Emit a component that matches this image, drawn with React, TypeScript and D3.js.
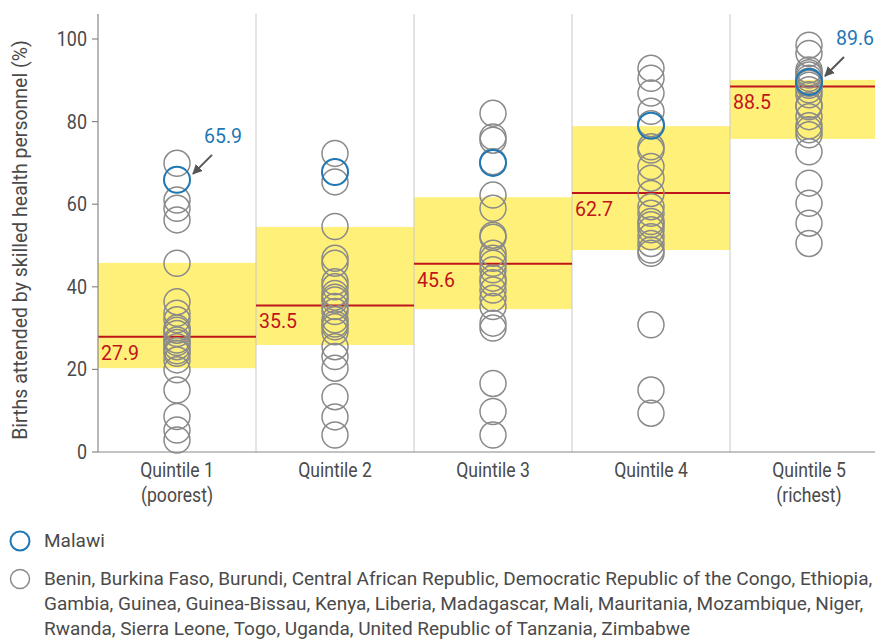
import React from "react";
import * as d3 from "d3";

const categories = ["Quintile 1", "Quintile 2", "Quintile 3", "Quintile 4", "Quintile 5"];
const subLabels = ["(poorest)", "", "", "", "(richest)"];
const medians = [27.9, 35.5, 45.6, 62.7, 88.5];
const boxLow = [20.3, 25.9, 34.6, 48.9, 75.8];
const boxHigh = [45.8, 54.5, 61.7, 78.9, 90.1];
const malawi = [65.9, 67.8, 70.0, 79.0, 89.6];
const q1 = [69.9, 61.0, 59.0, 56.2, 45.7, 36.4, 33.6, 32.0, 30.0, 29.5, 28.7, 27.1, 26.5, 25.5, 24.5, 23.9, 22.3, 19.9, 15.0, 8.6, 5.3, 2.9];
const q2 = [72.3, 65.4, 54.6, 46.9, 45.7, 41.2, 40.0, 38.4, 37.5, 36.8, 35.2, 34.0, 32.0, 31.0, 30.3, 29.1, 25.5, 23.1, 20.3, 13.4, 8.5, 4.1];
const q3 = [82.0, 76.3, 75.5, 70.3, 62.2, 59.0, 52.5, 52.0, 48.1, 46.9, 45.7, 44.1, 42.1, 41.0, 39.2, 37.2, 35.2, 31.2, 30.0, 16.6, 9.8, 4.1];
const q4 = [92.9, 90.5, 86.9, 82.5, 79.5, 73.9, 73.1, 69.1, 66.3, 62.6, 59.4, 57.8, 55.8, 55.0, 53.8, 52.1, 50.5, 48.9, 48.1, 30.8, 15.0, 9.4];
const q5 = [98.5, 96.5, 92.5, 91.8, 91.3, 90.5, 89.8, 89.3, 88.8, 87.7, 86.5, 84.0, 83.6, 81.2, 79.0, 78.0, 76.8, 72.7, 65.1, 60.2, 55.4, 50.5];
const others = [q1, q2, q3, q4, q5];
const yTicks = [0, 20, 40, 60, 80, 100];
const annotated = [0, 4];
const legendLines = [
  "Benin, Burkina Faso, Burundi, Central African Republic, Democratic Republic of the Congo, Ethiopia,",
  "Gambia, Guinea, Guinea-Bissau, Kenya, Liberia, Madagascar, Mali, Mauritania, Mozambique, Niger,",
  "Rwanda, Sierra Leone, Togo, Uganda, United Republic of Tanzania, Zimbabwe",
];

const W = 875;
const H = 641;
const left = 98;
const top = 14;
const bottom = 452;
const FONT = "Roboto, 'Liberation Sans', sans-serif";
const RED = "#c0141c";
const BLUE = "#1f77b4";
const GRAY = "#8a8a8a";
const TXT = "#4a4a4a";
const YELLOW = "#fff07a";

function CText(props: { x: number; y: number; size: number; sx?: number; anchor?: string; fill?: string; children: React.ReactNode }) {
  const { x, y, size, sx = 1, anchor = "start", fill = TXT, children } = props;
  return (
    <g transform={`translate(${x},${y}) scale(${sx},1)`}>
      <text x={0} y={0} fontSize={size} textAnchor={anchor} fill={fill}>
        {children}
      </text>
    </g>
  );
}

export default function App() {
  const x = d3.scaleBand<string>().domain(categories).range([left, left + 158 * 5]).padding(0);
  const y = d3.scaleLinear().domain([0, 100]).range([bottom, 39]);
  const bw = x.bandwidth();
  const r = 13;

  return (
    <svg width={W} height={H} style={{ position: "absolute", left: 0, top: 0, background: "#fff" }} fontFamily={FONT}>
      <defs>
        <marker id="arr" viewBox="0 0 10 10" refX="9" refY="5" markerWidth="5" markerHeight="5" orient="auto">
          <path d="M0,0 L10,5 L0,10 z" fill="#555" />
        </marker>
      </defs>
      {categories.map((c, i) => (
        <rect key={"b" + c} x={x(c)!} y={y(boxHigh[i])} width={bw} height={y(boxLow[i]) - y(boxHigh[i])} fill={YELLOW} />
      ))}
      {categories.slice(1).map((c) => (
        <line key={"s" + c} x1={x(c)!} x2={x(c)!} y1={top} y2={bottom} stroke="#c8c8c8" strokeWidth={1} />
      ))}
      {categories.map((c, i) => (
        <g key={"m" + c}>
          <line x1={x(c)!} x2={x(c)! + bw} y1={y(medians[i])} y2={y(medians[i])} stroke={RED} strokeWidth={2} />
          <CText x={x(c)! + 3} y={y(medians[i]) + 23} size={19.5} fill={RED}>
            {medians[i].toFixed(1)}
          </CText>
        </g>
      ))}
      {categories.map((c, i) =>
        others[i].map((v, j) => (
          <circle key={c + j} cx={x(c)! + bw / 2} cy={y(v)} r={r} fill="none" stroke={GRAY} strokeWidth={1.5} />
        ))
      )}
      {categories.map((c, i) => (
        <circle key={"mw" + c} cx={x(c)! + bw / 2} cy={y(malawi[i])} r={r} fill="none" stroke={BLUE} strokeWidth={2} />
      ))}
      {annotated.map((i) => {
        const cx = x(categories[i])! + bw / 2;
        const cy = y(malawi[i]);
        return (
          <g key={"a" + i}>
            <line x1={cx + 35} y1={cy - 25} x2={cx + 16} y2={cy - 6} stroke="#555" strokeWidth={2} markerEnd="url(#arr)" />
            <CText x={cx + 27} y={cy - 37} size={19.5} fill={BLUE}>
              {malawi[i].toFixed(1)}
            </CText>
          </g>
        );
      })}
      <line x1={left} x2={W} y1={bottom} y2={bottom} stroke="#888" strokeWidth={1.2} />
      <line x1={left} x2={left} y1={top} y2={bottom} stroke="#888" strokeWidth={1.2} />
      {yTicks.map((t) => (
        <g key={"t" + t}>
          <line x1={left - 6} x2={left} y1={y(t)} y2={y(t)} stroke="#888" strokeWidth={1.2} />
          <CText x={left - 11} y={y(t) + 7} size={19.5} sx={0.92} anchor="end">
            {t}
          </CText>
        </g>
      ))}
      <text transform={`translate(27,240) rotate(-90)`} textAnchor="middle" fontSize={19.5} fill={TXT}>
        Births attended by skilled health personnel (%)
      </text>
      {categories.map((c, i) => (
        <g key={"x" + c}>
          <CText x={x(c)! + bw / 2} y={477} size={20} sx={0.88} anchor="middle">
            {c}
          </CText>
          {subLabels[i] && (
            <CText x={x(c)! + bw / 2} y={502} size={20} sx={0.88} anchor="middle">
              {subLabels[i]}
            </CText>
          )}
        </g>
      ))}
      <circle cx={20} cy={541} r={9.5} fill="none" stroke={BLUE} strokeWidth={2} />
      <CText x={44} y={547} size={19}>Malawi</CText>
      <circle cx={20} cy={579} r={9.5} fill="none" stroke={GRAY} strokeWidth={1.5} />
      {legendLines.map((l, i) => (
        <CText key={"l" + i} x={44} y={585 + i * 25} size={19}>
          {l}
        </CText>
      ))}
    </svg>
  );
}
